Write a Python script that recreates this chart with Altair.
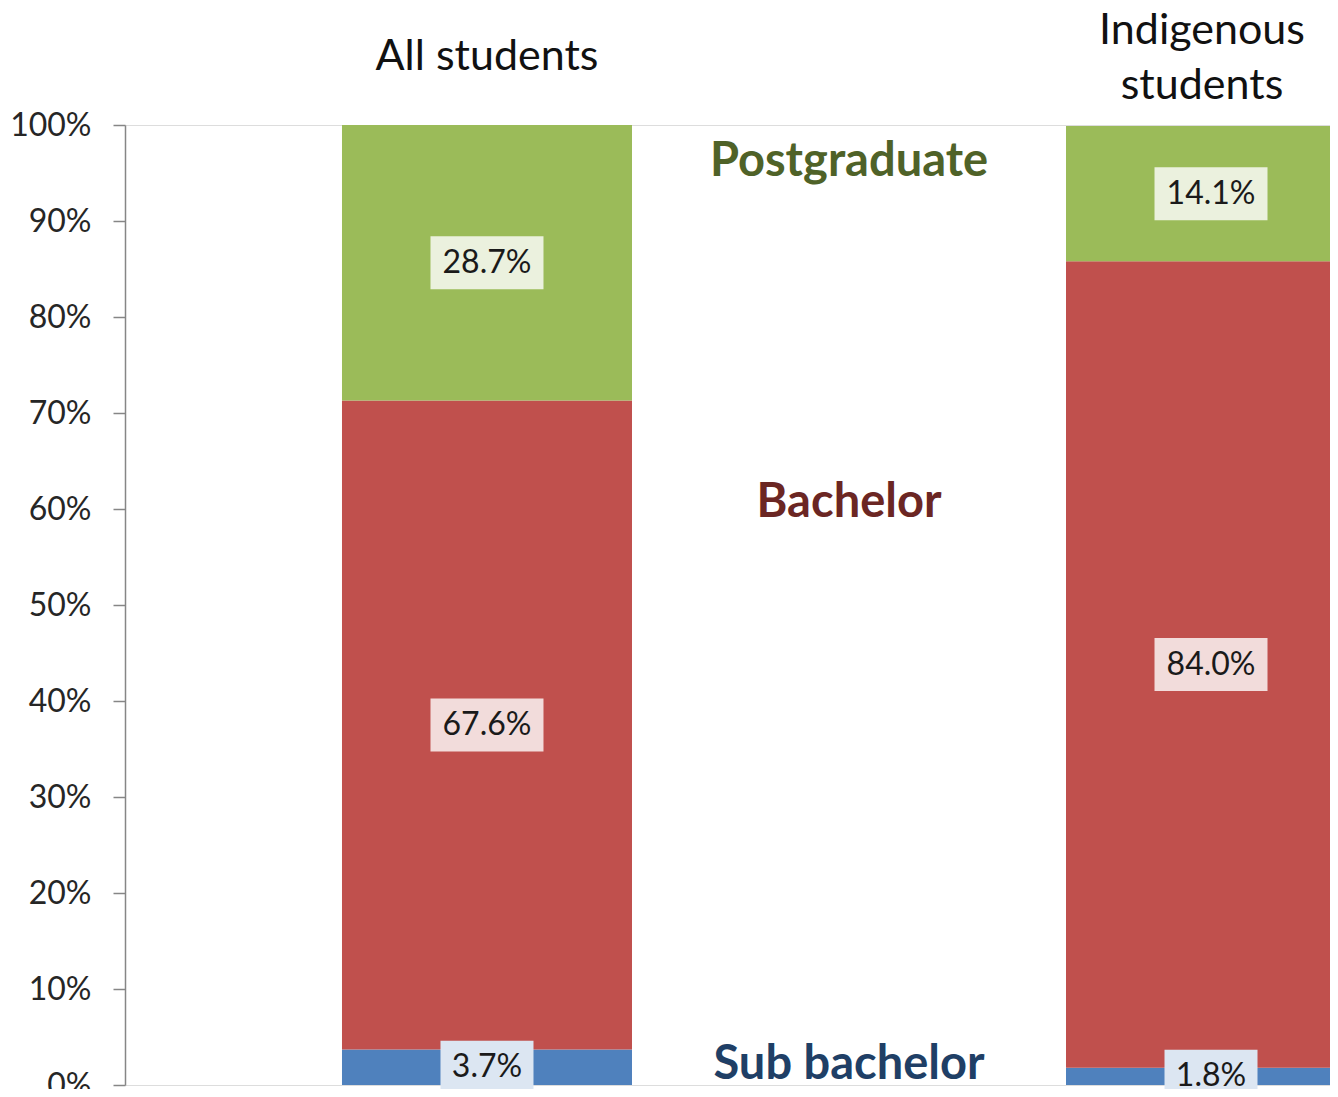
import altair as alt
import pandas as pd

# ---- data ----
groups = ["All students", "Indigenous students"]
header_text = ["All students", "Indigenous\nstudents"]
levels = ["Sub bachelor", "Bachelor", "Postgraduate"]
sub_bachelor = [3.7, 1.8]
bachelor = [67.6, 84.0]
postgraduate = [28.7, 14.1]
level_label_y = [2.1, 60.6, 96.1]   # where the level names sit (in % units)
y_ticks = [0, 10, 20, 30, 40, 50, 60, 70, 80, 90, 100]

bar_colors = ["#4F81BD", "#C0504D", "#9BBB59"]
box_colors = ["#DCE6F2", "#F2DCDB", "#EBF1DE"]
name_colors = ["#1F3F66", "#6B2623", "#4F6228"]

x_domain = ["All students", "gap", "Indigenous students"]

rows = []
series = [sub_bachelor, bachelor, postgraduate]
for gi, g in enumerate(groups):
    base = 0.0
    for li, lev in enumerate(levels):
        v = series[li][gi]
        rows.append(dict(group=g, level=lev, value=v, start=base, end=base + v,
                         mid=base + v / 2, label=f"{v:.1f}%"))
        base += v
df = pd.DataFrame(rows)

hdr = pd.DataFrame({"group": groups, "text": header_text})
names = pd.DataFrame({"group": ["gap"] * 3, "level": levels, "y": level_label_y})

FONT = "Lato"
xscale = alt.Scale(domain=x_domain, range=[0, 1448], paddingInner=0.1989, paddingOuter=0.5994)
X = alt.X("group:N", scale=xscale, axis=None)

bars = alt.Chart(df).mark_bar(clip=True).encode(
    x=X,
    y=alt.Y("start:Q", scale=alt.Scale(domain=[0, 100], nice=False),
            axis=alt.Axis(values=y_ticks, labelExpr="datum.value + '%'", title=None,
                          grid=False, tickSize=12, tickColor="#868686", tickWidth=1.5,
                          domainColor="#868686", domainWidth=1.5,
                          labelFont=FONT, labelFontSize=32, labelColor="#262626",
                          labelPadding=22)),
    y2="end:Q",
    color=alt.Color("level:N", scale=alt.Scale(domain=levels, range=bar_colors), legend=None),
)

boxes = alt.Chart(df).transform_calculate(
    shape="length(datum.label) > 4 ? 'M-1,-0.469L1,-0.469L1,0.469L-1,0.469Z' : 'M-0.823,-0.469L0.823,-0.469L0.823,0.469L-0.823,0.469Z'"
).mark_point(filled=True, opacity=1, size=12769, strokeWidth=0).encode(
    x=X,
    y=alt.Y("mid:Q"),
    shape=alt.Shape("shape:N", scale=None),
    color=alt.Color("level:N", scale=alt.Scale(domain=levels, range=box_colors), legend=None),
)

labels = alt.Chart(df).mark_text(font=FONT, fontSize=32, color="#1a1a1a", baseline="middle").encode(
    x=X,
    y=alt.Y("mid:Q"),
    text="label:N",
)

header_all = alt.Chart(hdr).transform_filter(alt.datum.group == groups[0]).mark_text(
    font=FONT, fontSize=43, color="#111111", baseline="middle").encode(
    x=X, y=alt.value(-68), text="text:N")

header_ind = alt.Chart(hdr).transform_filter(alt.datum.group == groups[1]).mark_text(
    font=FONT, fontSize=43, color="#111111", lineBreak="\n", lineHeight=55,
    baseline="middle", dx=-9).encode(
    x=X, y=alt.value(-94), text="text:N")

level_names = alt.Chart(names).mark_text(font=FONT, fontSize=47, fontWeight="bold",
                                         baseline="middle").encode(
    x=X,
    y=alt.Y("y:Q"),
    text="level:N",
    color=alt.Color("level:N", scale=alt.Scale(domain=levels, range=name_colors), legend=None),
)

chart = alt.layer(bars, boxes, labels, header_all, header_ind, level_names).resolve_scale(
    color="independent"
).properties(
    width=1205, height=960,
    autosize=alt.AutoSizeParams(type="none"),
    padding={"left": 117, "top": 117, "right": 0, "bottom": 4},
).configure_view(stroke=None).configure(background="white")

chart.save("out.html", embed_options={"renderer": "svg", "actions": False})
